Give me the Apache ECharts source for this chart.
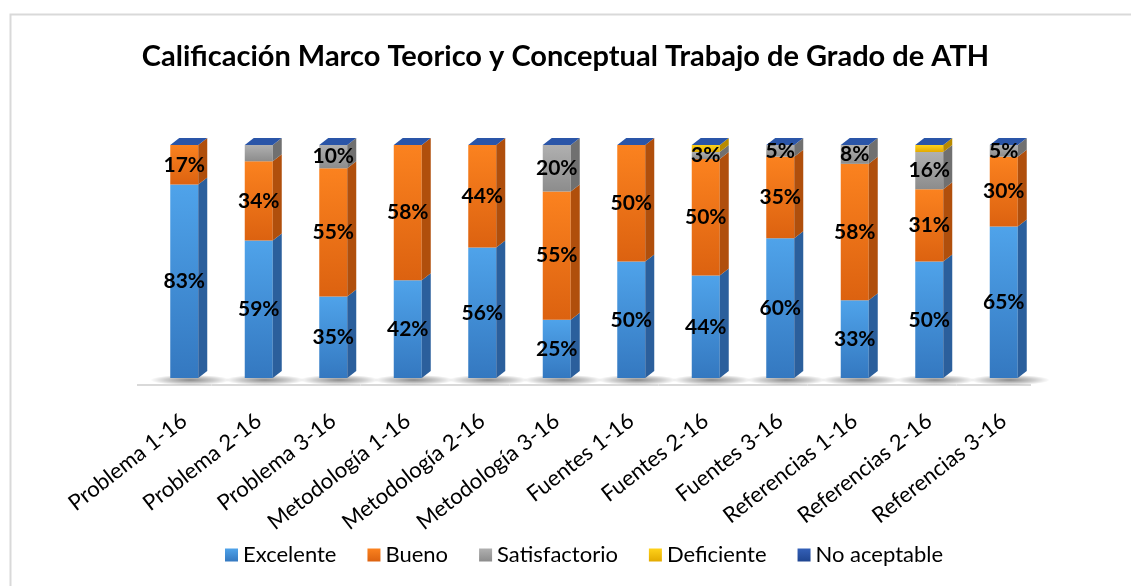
<!DOCTYPE html>
<html>
<head>
<meta charset="utf-8">
<script src="https://cdn.jsdelivr.net/npm/echarts@6/dist/echarts.min.js"></script>
<style>
  html, body { margin: 0; padding: 0; background: #fff; }
  #chart { width: 1131px; height: 586px; }
</style>
</head>
<body>
<div id="chart"></div>
<script>
const categorias = ['Problema 1-16', 'Problema 2-16', 'Problema 3-16', 'Metodología 1-16', 'Metodología 2-16', 'Metodología 3-16',
  'Fuentes 1-16', 'Fuentes 2-16', 'Fuentes 3-16', 'Referencias 1-16', 'Referencias 2-16', 'Referencias 3-16']
const excelente = [83, 59, 35, 42, 56, 25, 50, 44, 60, 33, 50, 65]
const bueno = [17, 34, 55, 58, 44, 55, 50, 50, 35, 58, 31, 30]
const satisfactorio = [0, 7, 10, 0, 0, 20, 0, 3, 5, 8, 16, 5]
const deficiente = [0, 0, 0, 0, 0, 0, 0, 3, 0, 0, 3, 0]
const noAceptable = [0, 0, 0, 0, 0, 0, 0, 0, 0, 0, 0, 0]
const nombres = ['Excelente', 'Bueno', 'Satisfactorio', 'Deficiente', 'No aceptable']
// etiquetas que no aparecen en el original: [serie, categoria]
const etiquetasOcultas = [[2, 1]]

const valores = [excelente, bueno, satisfactorio, deficiente, noAceptable]
const conEtiqueta = [true, true, true, false, false]

// colores: [claro, oscuro, lateral]
const colores = [
  ['#4fa3ea', '#3478c0', '#2b5f9c'],
  ['#fb821f', '#dc6210', '#b04f0c'],
  ['#b0b0b0', '#8c8c8c', '#707070'],
  ['#ffd21a', '#e3aa00', '#b88a00'],
  ['#3460b8', '#1f4590', '#1a3a7a']
]

function grad (c) {
  return new echarts.graphic.LinearGradient(0, 0, 0, 1, [
    { offset: 0, color: c[0] },
    { offset: 1, color: c[1] }
  ])
}

// 100% apilado
const totales = categorias.map((_, i) => valores.reduce((s, arr) => s + arr[i], 0))
const datos = valores.map((arr, si) => arr.map((v, i) => {
  let base = 0
  for (let k = 0; k < si; k++) base += valores[k][i]
  return [i, base / totales[i] * 100, (base + v) / totales[i] * 100, v, si]
}))

const W = 28, DX = 9, DY = 7

function makeRender (si) {
  return function (params, api) {
    const i = api.value(0)
    const b = api.value(1)
    const t = api.value(2)
    const pb = api.coord([i, b])
    const pt = api.coord([i, t])
    const band = api.size([1, 0])[0]
    const x = pb[0] - W / 2
    const c = colores[si]
    const children = []
    if (si === 0) {
      // suelo y sombra
      children.push({
        type: 'line',
        shape: { x1: pb[0] - band / 2 - 10, y1: pb[1] + 7, x2: pb[0] + band / 2 - 10, y2: pb[1] + 7 },
        style: { stroke: '#d9d9d9', lineWidth: 2 }
      })
      children.push({
        type: 'circle',
        x: pb[0] + 6,
        y: pb[1] + 2,
        scaleY: 0.13,
        shape: { cx: 0, cy: 0, r: 40 },
        style: {
          fill: new echarts.graphic.RadialGradient(0.5, 0.5, 0.5, [
            { offset: 0, color: 'rgba(0,0,0,0.45)' },
            { offset: 0.6, color: 'rgba(0,0,0,0.2)' },
            { offset: 1, color: 'rgba(0,0,0,0)' }
          ])
        }
      })
    }
    if (t > b) {
      children.push({
        type: 'rect',
        shape: { x: x, y: pt[1], width: W, height: pb[1] - pt[1] },
        style: { fill: grad(c) }
      })
      children.push({
        type: 'polygon',
        shape: { points: [[x + W, pb[1]], [x + W + DX, pb[1] - DY], [x + W + DX, pt[1] - DY], [x + W, pt[1]]] },
        style: { fill: c[2] }
      })
    }
    if (si === valores.length - 1) {
      children.push({
        type: 'polygon',
        shape: { points: [[x, pt[1]], [x + DX, pt[1] - DY], [x + W + DX, pt[1] - DY], [x + W, pt[1]]] },
        style: { fill: '#2a55a8' }
      })
    }
    return { type: 'group', children }
  }
}

// etiquetas encima de todo
function renderEtiqueta (params, api) {
  const i = api.value(0)
  const v = api.value(3)
  const si = api.value(4)
  const oculta = etiquetasOcultas.some(e => e[0] === si && e[1] === i)
  if (!conEtiqueta[si] || v <= 0 || oculta) return null
  const pb = api.coord([i, api.value(1)])
  const pt = api.coord([i, api.value(2)])
  return {
    type: 'text',
    x: pb[0],
    y: (pb[1] + pt[1]) / 2,
    style: {
      text: v + '%',
      fill: '#000',
      font: 'bold 21px Lato',
      align: 'center',
      verticalAlign: 'middle'
    }
  }
}

const chart = echarts.init(document.getElementById('chart'))
chart.setOption({
  animation: false,
  textStyle: { fontFamily: 'Lato' },
  title: {
    text: 'Calificación Marco Teorico y Conceptual Trabajo de Grado de ATH',
    left: 'center',
    top: 37,
    textStyle: { fontFamily: 'Lato', fontSize: 29, fontWeight: 'bold', color: '#000' }
  },
  graphic: [{
    type: 'rect',
    left: 8,
    top: 12,
    shape: { width: 1200, height: 700 },
    style: { fill: 'none', stroke: '#d9d9d9', lineWidth: 2 },
    silent: true
  }],
  legend: {
    data: nombres,
    bottom: 15,
    left: 220,
    icon: 'rect',
    itemWidth: 13,
    itemHeight: 13,
    itemGap: 31,
    textStyle: { fontFamily: 'Lato', fontSize: 22, color: '#000' }
  },
  grid: { left: 147, right: 90, top: 145, bottom: 208 },
  xAxis: {
    type: 'category',
    data: categorias,
    axisLine: { show: false },
    axisTick: { show: false },
    axisLabel: { rotate: 38, margin: 40, fontSize: 22, color: '#000', fontFamily: 'Lato', interval: 0 }
  },
  yAxis: { type: 'value', min: 0, max: 100, show: false },
  series: valores.map((arr, si) => ({
    name: nombres[si],
    type: 'custom',
    renderItem: makeRender(si),
    encode: { x: 0, y: [1, 2] },
    itemStyle: { color: grad(colores[si]) },
    data: datos[si],
    z: 2
  })).concat([{
    name: 'etiquetas',
    type: 'custom',
    renderItem: renderEtiqueta,
    encode: { x: 0, y: [1, 2] },
    data: [].concat(...datos),
    silent: true,
    z: 10
  }])
})
</script>
</body>
</html>
